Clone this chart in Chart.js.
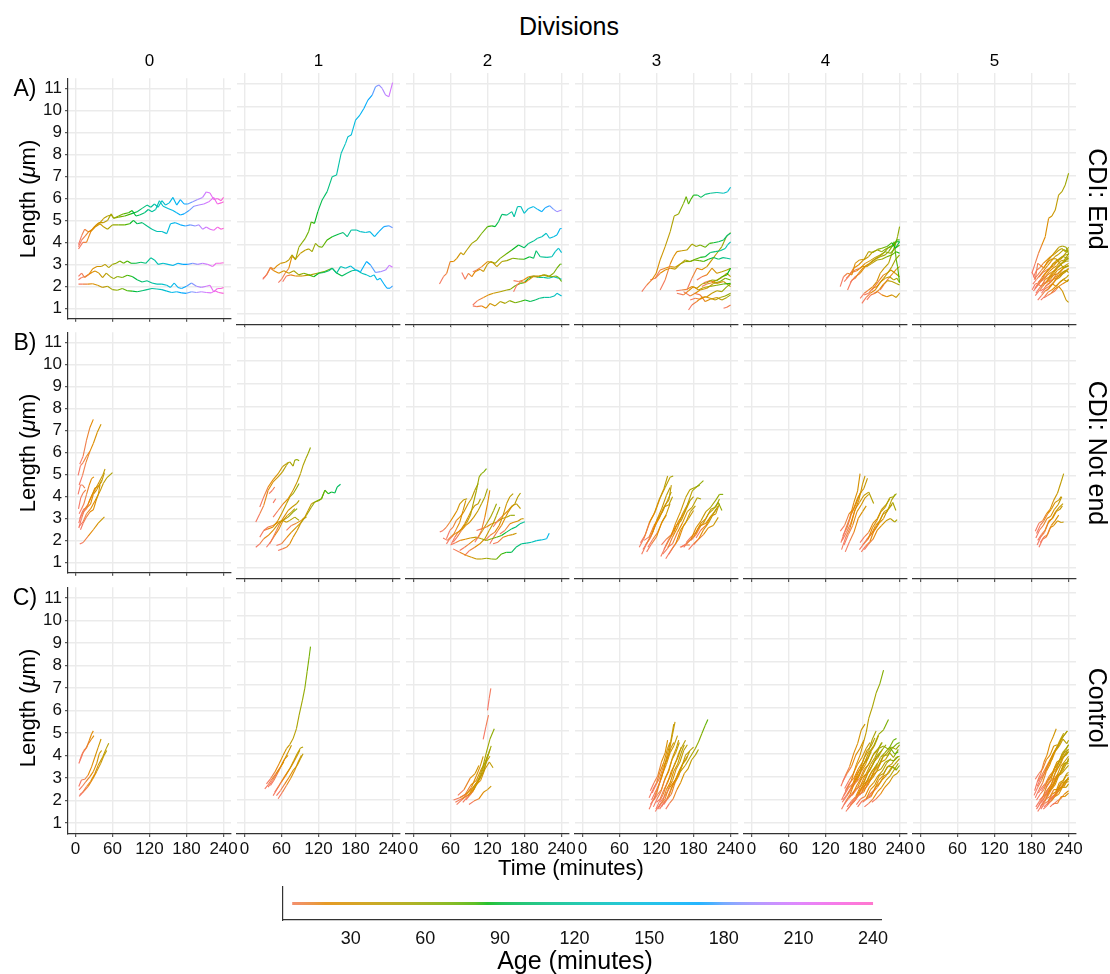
<!DOCTYPE html>
<html>
<head>
<meta charset="utf-8">
<script src="https://cdn.jsdelivr.net/npm/chart.js@4.4.1/dist/chart.umd.min.js"></script>
<style>
  html, body { margin: 0; padding: 0; background: #fff; }
  #fig { position: relative; width: 1110px; height: 974px; overflow: hidden;
         font-family: 'Liberation Sans', Arial, Helvetica, sans-serif; color: #000; }
  #fig canvas { position: absolute; }
  .lbl { position: absolute; white-space: nowrap; line-height: 1; transform: translate(-50%, -50%); }
  .rotl { transform: translate(-50%, -50%) rotate(-90deg); }
  .rotr { transform: translate(-50%, -50%) rotate(90deg); }
</style>
</head>
<body>
<div id="fig"></div>
<script>
// ---- facets, ticks ----
const divisions = ['0', '1', '2', '3', '4', '5'];
const groups = ['CDI: End', 'CDI: Not end', 'Control'];
const rowTags = ['A)', 'B)', 'C)'];
const timeTicks = [0, 60, 120, 180, 240];
const timeTickLabels = ['0', '60', '120', '180', '240'];
const lengthTicks = [1, 2, 3, 4, 5, 6, 7, 8, 9, 10, 11];
const lengthTickLabels = ['1', '2', '3', '4', '5', '6', '7', '8', '9', '10', '11'];
const ageTicks = [30, 60, 90, 120, 150, 180, 210, 240];
const ageTickLabels = ['30', '60', '90', '120', '150', '180', '210', '240'];
const ageSpan = [6.5, 240];

// ---- cell length trajectories: flat [time, length, time, length, ...] ----
// CDI: End
const endDiv0 = [
  [5,3.9, 10,4.3, 15,4.6, 20,4.5, 25,4.5, 30,4.7, 38,4.9, 45,4.9, 52,5.0, 58,5.3, 62,5.1, 70,5.15, 80,5.2, 90,5.3, 100,5.4, 108,5.55, 116,5.7, 122,5.6, 128,5.75, 134,5.6, 140,5.9, 146,5.7, 152,5.8, 158,6.05, 164,5.7, 170,5.95, 176,5.75, 182,5.75, 190,5.85, 198,5.95, 206,6.05, 212,6.3, 218,6.25, 224,5.95, 230,6.0, 236,5.9, 240,6.05],
  [5,3.8, 10,4.1, 16,4.3, 22,4.5, 28,4.6, 34,4.8, 40,4.9, 46,5.1, 52,5.2, 58,5.25, 62,5.1, 70,5.2, 78,5.3, 86,5.35, 92,5.45, 98,5.2, 104,5.25, 112,5.35, 118,5.5, 124,5.4, 130,5.5, 136,5.9, 142,5.65, 150,5.55, 158,5.45, 164,5.35, 170,5.25, 176,5.3, 184,5.45, 192,5.65, 200,5.7, 208,5.75, 216,5.85, 224,6.05, 230,5.75, 236,5.8, 240,5.85],
  [5,3.7, 12,4.0, 18,4.0, 25,4.5, 32,4.7, 40,4.85, 46,4.7, 52,4.6, 60,4.8, 70,4.8, 80,4.8, 88,4.85, 94,5.0, 100,4.85, 108,4.9, 116,4.75, 124,4.6, 132,4.5, 140,4.5, 148,4.4, 154,4.85, 162,4.9, 170,4.8, 178,4.75, 186,4.8, 194,4.75, 200,4.8, 206,4.6, 212,4.7, 218,4.6, 224,4.55, 230,4.7, 236,4.6, 240,4.65],
  [5,2.45, 10,2.6, 15,2.4, 22,2.55, 28,2.8, 35,2.9, 42,2.9, 48,3.0, 54,2.85, 60,3.0, 66,3.05, 72,3.15, 78,3.05, 84,3.15, 90,3.05, 98,3.05, 106,3.1, 114,3.05, 122,3.3, 128,3.2, 134,3.0, 142,3.05, 150,3.0, 158,2.95, 166,3.05, 174,3.0, 182,3.0, 190,3.05, 198,3.0, 206,3.05, 214,3.0, 222,2.9, 228,3.05, 234,3.05, 240,3.07],
  [5,2.3, 10,2.4, 16,2.45, 22,2.55, 28,2.65, 32,2.7, 38,2.6, 44,2.4, 50,2.6, 56,2.45, 62,2.35, 68,2.45, 76,2.4, 84,2.5, 92,2.45, 100,2.3, 108,2.2, 116,2.25, 124,2.15, 132,2.1, 140,2.1, 148,2.05, 154,1.95, 160,2.15, 166,1.95, 172,1.9, 180,2.0, 188,2.15, 196,2.0, 204,1.95, 212,2.0, 218,2.05, 224,1.75, 230,1.9, 236,1.9, 240,1.95],
  [5,2.1, 12,2.1, 20,2.1, 28,2.12, 36,2.05, 44,1.95, 52,2.0, 60,1.85, 68,1.82, 76,1.9, 84,1.8, 92,1.78, 100,1.75, 108,1.8, 116,1.85, 124,1.9, 132,1.88, 140,1.85, 148,1.78, 156,1.72, 164,1.75, 172,1.7, 180,1.68, 188,1.75, 196,1.72, 204,1.75, 212,1.72, 220,1.7, 226,1.8, 232,1.72, 240,1.68]
];
const endDiv1 = [
  [29.7,2.5, 33,2.6, 36.8,2.75, 42.2,3.03, 47.6,2.95, 53,3.1, 58.4,3.2, 66.5,3.25, 71.9,3.35, 77.3,3.57, 82.7,3.35, 88.1,3.9, 93.5,4.1, 98.9,4.3, 104.3,4.6, 108.1,5.0, 113.5,4.94, 118.9,5.45, 125.9,5.96, 134,6.32, 142.2,6.97, 149.2,7.04, 156.7,7.99, 163.8,8.42, 167.6,8.71, 173,8.78, 180,9.43, 187,9.65, 193.5,9.94, 200,10.3, 207,10.52, 212.4,10.88, 217.8,10.96, 223.2,10.81, 228.6,10.52, 234,10.45, 240,11.06],
  [55,2.36, 60,2.5, 66,2.77, 72,2.99, 77,3.5, 83,3.4, 90.8,3.64, 98.9,3.78, 104.3,3.83, 109.7,3.71, 115.1,4.07, 120.5,3.93, 125.9,3.9, 134,4.22, 142.2,4.36, 153,4.48, 160,4.54, 166.5,4.36, 173,4.65, 181.6,4.65, 188,4.58, 196.2,4.54, 203.2,4.58, 210.8,4.36, 217.8,4.58, 225.9,4.8, 234,4.84, 240,4.75],
  [30,2.55, 36,2.7, 42,3.0, 47.6,2.88, 55.7,2.77, 63.8,2.88, 71.9,2.77, 80,2.88, 88.1,2.7, 96.2,2.77, 104.3,2.7, 112.4,2.62, 120.5,2.77, 128.6,2.8, 136.7,2.88, 142.2,2.99, 149.2,2.77, 155.7,3.06, 163.8,2.99, 171.9,3.09, 180,2.91, 188.1,2.84, 197.8,3.28, 204.3,3.13, 212.4,2.8, 220.5,2.84, 228.6,2.91, 234.6,3.12, 240,3.03],
  [62,2.4, 68,2.65, 75,2.7, 82.7,2.65, 93.5,2.65, 107,2.7, 118,2.77, 129,2.84, 142,2.99, 150,2.77, 158,2.65, 166,2.77, 174,2.88, 182,2.91, 190,2.77, 198,2.7, 204,2.62, 210,2.7, 215,2.48, 220,2.55, 226,2.3, 231,2.12, 236,2.12, 240,2.22]
];
const endDiv2 = [
  [42.2,2.3, 48.6,2.62, 54,2.77, 59.5,3.28, 64.9,3.28, 70.3,3.42, 76.8,3.67, 81,3.57, 86.5,3.78, 94.6,4.07, 102.7,4.22, 110.8,4.51, 120,4.8, 127,4.83, 132.4,4.8, 137.8,5.01, 143.2,5.33, 151.3,5.3, 159.4,5.45, 163.2,5.23, 168.6,5.67, 174,5.67, 179.4,5.38, 186.5,5.59, 194.6,5.67, 201,5.55, 208,5.45, 213.5,5.62, 220.5,5.71, 227,5.55, 232.4,5.45, 240,5.52],
  [78.4,2.8, 83.8,2.51, 89.2,2.77, 94.6,2.62, 100,2.84, 108.1,2.94, 113.5,2.85, 120,3.17, 125.4,3.28, 132.4,3.2, 140.5,3.42, 150.3,3.61, 159.4,3.78, 170.3,4.0, 179.4,3.88, 186.5,4.07, 194.6,4.17, 201,4.29, 208,4.36, 215.1,4.51, 220.5,4.29, 227,4.36, 232.4,4.43, 237.8,4.72, 240,4.72],
  [96.2,2.84, 102.7,2.91, 110.8,3.06, 120,3.28, 128.6,3.23, 135.1,3.06, 143.2,3.28, 151.3,3.32, 161,3.42, 170.3,3.39, 179.4,3.38, 188.1,3.49, 194.6,3.42, 198.9,3.75, 205.4,3.49, 216.2,3.46, 224.3,3.49, 229.7,3.71, 235.1,3.86, 240,3.67],
  [162.2,1.97, 167.6,2.26, 174,2.41, 181,2.36, 186.5,2.48, 193.5,2.62, 202.7,2.62, 210.8,2.7, 218.9,2.62, 227,2.77, 232.4,2.99, 237.8,3.17, 240,3.16],
  [162.2,2.45, 170.3,2.41, 178.4,2.48, 186.5,2.62, 193.5,2.65, 202.7,2.65, 213.5,2.7, 222.7,2.62, 231.3,2.65, 235.1,2.59, 240,2.41],
  [96.2,1.39, 103.8,1.58, 113.5,1.72, 121.6,1.83, 129.7,1.9, 140.5,1.97, 151.3,2.04, 156.8,2.07, 164.9,2.23, 173,2.33, 179.4,2.36, 186.5,2.55, 194.6,2.65, 202.7,2.59, 210.8,2.59, 218.9,2.55, 227,2.62, 235.1,2.55, 240,2.51],
  [96.2,1.35, 102.7,1.32, 110.8,1.35, 117.8,1.25, 124.3,1.46, 132.4,1.35, 140.5,1.54, 148.6,1.46, 155.7,1.58, 164.9,1.49, 173,1.54, 181,1.61, 189.2,1.54, 197.3,1.61, 204.3,1.68, 211.9,1.72, 220.5,1.72, 228.1,1.78, 232.4,1.9, 240,1.78]
];
const endDiv3 = [
  [96.2,1.97, 104.3,2.26, 112.4,2.48, 119.5,2.77, 125.9,3.35, 134,3.93, 142.2,4.58, 148.6,5.26, 155.7,5.35, 163.8,5.81, 168.1,6.1, 171.9,5.78, 175.7,5.99, 180,6.17, 186.5,6.17, 191.9,6.07, 198.9,6.2, 207,6.25, 217.8,6.28, 228.6,6.25, 235.1,6.32, 240,6.51],
  [125.9,2.04, 134,2.48, 142.2,3.17, 147.6,3.49, 153,3.71, 161,3.75, 169.2,3.78, 177.3,4.04, 184.3,3.93, 190.8,4.0, 198.9,3.9, 205.9,4.07, 212.4,4.1, 220.5,4.14, 228.6,4.22, 235.1,4.43, 240,4.51],
  [109.7,2.48, 117.8,2.55, 125.9,2.77, 134,2.91, 142.2,2.99, 150.3,2.95, 158.4,3.17, 166.5,3.28, 174.6,3.28, 182.7,3.38, 190.8,3.46, 198.9,3.49, 207,3.67, 215.1,3.71, 223.2,3.75, 231.3,3.85, 235,4.0, 240,4.14],
  [117.8,2.55, 125.9,2.91, 134,2.99, 142.2,3.06, 150.3,3.03, 158.4,3.17, 166.5,3.35, 174.6,3.28, 181,3.35, 189.7,3.32, 196.2,3.28, 204.3,3.38, 212.4,3.46, 220.5,3.38, 227.6,3.45, 234,3.42, 240,3.39],
  [169.2,2.04, 177.3,2.55, 185.4,2.99, 193.5,2.92, 201.6,3.06, 209.7,3.35, 217.8,3.64, 225.9,3.93, 233,4.36, 240,4.54],
  [151.9,2.01, 161,2.04, 169.2,2.07, 177.3,2.19, 185.4,2.12, 193.5,2.3, 201.6,2.36, 209.7,2.48, 217.8,2.45, 225.9,2.62, 234,2.7, 240,2.99],
  [153,1.9, 163.8,1.83, 171.9,2.01, 180,2.19, 188.1,2.04, 196.2,2.15, 207,2.2, 217.8,2.25, 228.6,2.3, 240,2.33],
  [163.8,1.97, 174.6,1.78, 182.7,1.9, 190.8,2.04, 201.6,2.12, 212.4,2.33, 223.2,2.41, 231.3,2.55, 240,2.48],
  [171.9,1.17, 177.3,1.39, 185.4,1.54, 193.5,1.72, 201.6,1.75, 209.7,1.9, 217.8,2.01, 225.9,1.97, 234,2.19, 240,2.3],
  [174.6,1.61, 182.7,1.68, 190.8,1.64, 198.9,1.75, 207,1.68, 215.1,1.61, 223.2,1.72, 231.3,1.78, 240,1.9],
  [181,1.9, 190.8,1.83, 198.9,1.54, 207,1.64, 217.8,1.72, 225.9,1.61, 234,1.72, 240,1.83],
  [185.4,2.48, 193.5,2.62, 201.6,2.7, 209.7,2.99, 217.8,2.77, 225.9,2.84, 234,2.91, 240,2.99],
  [193.5,2.19, 201.6,2.3, 209.7,2.36, 217.8,2.48, 225.9,2.59, 234,2.77, 240,2.62],
  [228.6,1.25, 234,1.29, 240,1.39],
  [196.2,2.36, 207,2.45, 217.8,2.33, 228.6,2.41, 240,2.19]
];
const endDiv4 = [
  [143.8,2.19, 149.2,2.62, 155.7,2.77, 162.7,2.7, 168.1,3.2, 175.1,3.35, 182.7,3.38, 189.7,3.71, 196.7,3.67, 204.3,3.81, 211.3,3.86, 219.4,3.93, 227.6,4.1, 233,3.86, 240,4.14],
  [155.7,2.04, 162.7,2.48, 168.1,2.55, 173.5,2.77, 181.6,3.03, 189.7,3.17, 197.8,3.35, 205.9,3.49, 214,3.64, 222.2,3.9, 230.3,4.0, 235.7,4.22, 240,4.22],
  [150.3,2.41, 157.3,2.62, 165.4,2.99, 173.5,3.13, 181.6,3.35, 189.7,3.49, 196.7,3.71, 204.3,3.78, 211.3,3.71, 219.4,3.86, 227.6,3.93, 234.6,4.14, 240,4.14],
  [160,2.77, 168.1,2.91, 176.2,2.99, 184.3,3.2, 192.4,3.32, 200.5,3.46, 208.6,3.57, 216.7,3.71, 224.9,3.64, 233,3.86, 240,4.0],
  [153.5,2.55, 162.7,2.8, 170.8,2.88, 178.9,3.06, 187,3.06, 195.1,3.2, 203.2,3.35, 211.3,3.38, 219.4,3.49, 227.6,3.57, 234.6,3.71, 240,3.64],
  [160,2.36, 168.1,2.62, 176.2,2.77, 184.3,3.06, 192.4,3.2, 200.5,3.38, 208.6,3.49, 216.7,3.57, 222.2,3.71, 227.6,3.93, 231.3,4.14, 234.6,3.35, 236.7,3.06, 240,2.36],
  [176.2,1.68, 182.7,1.9, 189.7,2.04, 196.7,2.19, 203.2,2.41, 208.6,2.77, 215.1,2.99, 222.2,3.2, 227.6,3.64, 233,4.0, 236.7,4.36, 240,4.8],
  [178.9,1.46, 185.9,1.72, 192.4,1.9, 200.5,2.04, 207.6,2.33, 214,2.55, 220.5,2.77, 227.6,3.06, 233,3.35, 240,3.57],
  [182.7,1.83, 189.7,1.9, 196.7,2.12, 203.2,2.19, 209.7,2.41, 216.7,2.55, 223.8,2.62, 230.3,2.48, 235.7,2.55, 240,2.36],
  [187,1.61, 193.5,1.83, 200.5,1.9, 207.6,2.07, 214,2.3, 220.5,2.45, 227.6,2.41, 234.6,2.33, 240,2.26],
  [197.8,1.9, 204.3,1.97, 211.3,1.83, 219.4,1.75, 227.6,1.83, 234.6,1.72, 240,1.9],
  [195.1,2.04, 200.5,2.22, 207.6,2.48, 214,2.7, 219.4,2.77, 225.9,2.91, 233,2.77, 240,2.62],
  [208.6,2.04, 215.1,2.3, 222.2,2.55, 229.2,2.77, 234.6,2.94, 240,3.06]
];
const endDiv5 = [
  [180.5,2.77, 185.9,3.2, 191.3,3.64, 196.7,4.0, 202.2,4.36, 207.6,5.16, 213,5.26, 218.4,5.52, 223.8,6.17, 229.2,6.32, 234.6,6.61, 240,7.12],
  [181,2.8, 186,2.5, 190,3.2, 195,3.1, 200,3.0, 206,3.3, 212,3.5, 218,3.7, 224,3.9, 230,3.96, 236,3.9, 240,3.6],
  [182,2.3, 188,2.5, 194,2.7, 200,2.9, 206,3.1, 212,3.3, 218,3.5, 224,3.6, 232,3.8, 240,3.7],
  [183,2.0, 189,2.2, 195,2.4, 201,2.7, 207,2.9, 213,3.1, 219,3.3, 225,3.4, 231,3.5, 240,3.4],
  [184,2.5, 190,2.7, 196,2.9, 202,3.1, 208,3.3, 214,3.4, 220,3.4, 226,3.2, 232,3.0, 240,3.1],
  [186,1.8, 192,2.0, 198,2.2, 204,2.4, 210,2.6, 216,2.8, 222,3.0, 228,3.2, 234,3.3, 240,3.5],
  [188,2.2, 194,2.4, 200,2.5, 206,2.7, 212,2.8, 218,2.9, 224,3.1, 230,3.2, 236,3.3, 240,3.3],
  [190,1.6, 196,1.8, 202,2.0, 208,2.1, 214,2.3, 220,2.5, 226,2.6, 232,2.8, 238,2.9],
  [192,2.6, 198,2.8, 204,2.9, 210,3.0, 216,3.1, 222,3.3, 228,3.4, 234,3.6, 240,3.8],
  [194,2.0, 200,2.1, 206,2.3, 212,2.4, 218,2.6, 224,2.7, 230,2.8, 236,2.9, 240,2.8],
  [196,1.9, 202,2.1, 208,2.2, 214,2.3, 220,2.2, 226,2.4, 232,2.5, 238,2.4, 240,2.5],
  [198,2.3, 204,2.4, 210,2.6, 216,2.7, 222,2.9, 228,3.0, 234,3.1, 240,3.2],
  [200,1.7, 206,1.8, 212,1.9, 218,2.1, 224,2.2, 230,2.0, 236,1.6, 240,1.5],
  [185,2.1, 190,2.3, 196,2.2, 202,2.5, 208,2.6, 214,2.8, 220,3.0, 226,3.1, 232,3.3, 240,3.4],
  [204,2.0, 210,2.2, 216,2.4, 222,2.6, 228,2.7, 234,2.8, 240,3.0],
  [208,2.4, 214,2.5, 220,2.7, 226,2.8, 232,3.0, 240,3.1],
  [212,1.9, 218,2.0, 224,2.2, 230,2.3, 236,2.4, 240,2.5],
  [181,2.05, 186,2.3, 191,2.35, 197,2.6, 203,2.8, 209,2.95, 215,3.2, 221,3.25, 227,3.45, 233,3.55, 240,3.6],
  [183,2.6, 188,2.9, 193,3.0, 199,3.2, 205,3.35, 211,3.5, 217,3.6, 223,3.75, 229,3.85, 235,3.7, 240,3.9],
  [187,1.9, 192,2.1, 198,2.3, 204,2.35, 210,2.5, 216,2.7, 222,2.75, 228,2.9, 234,3.05, 240,3.1],
  [191,2.4, 197,2.5, 203,2.65, 209,2.85, 215,3.0, 221,3.1, 227,3.3, 233,3.35, 240,3.6],
  [195,1.6, 201,1.75, 207,1.95, 213,2.05, 219,2.2, 225,2.35, 231,2.5, 237,2.6, 240,2.7],
  [202,2.2, 208,2.3, 214,2.5, 220,2.55, 226,2.7, 232,2.85, 240,2.95]
];

// CDI: Not end
const notEndDiv0 = [
  [7,5.47, 12.5,5.83, 18,6.56, 23.5,7.14, 29,7.51],
  [6,4.52, 11.5,4.96, 17,5.54, 23.5,6.05, 29,6.41, 35.5,6.92, 41.5,7.29],
  [4.4,4.96, 8.2,5.4, 12.5,5.54, 18,5.83, 23.5,6.05],
  [7,1.83, 12.5,1.9, 20.7,2.19, 29,2.48, 37,2.78, 47,3.07],
  [6,2.63, 12.5,2.85, 18,3.21, 24.5,3.43, 31.6,3.79, 39.8,4.23, 45.3,4.6, 50.7,4.84, 60,5.08],
  [5.5,2.56, 9.8,2.99, 15.3,3.43, 20.7,3.65, 26.2,4.01, 31.6,4.38, 37,4.45, 42.5,4.67, 47,5.08],
  [6,3.21, 9.8,3.43, 13.6,3.65, 18,4.09, 22.4,4.52, 26.2,4.81, 30,4.89],
  [4.4,4.09, 8.2,4.52, 11.5,4.52, 15.3,4.38],
  [5.5,2.78, 9.8,3.21, 13.6,3.43, 19,3.5, 24.5,3.65, 29,4.09, 34.4,4.3, 38.7,4.52, 42.5,4.74],
  [7,2.99, 12.5,3.29, 18,3.43, 22.4,3.79, 27.3,4.09, 33.3,4.38, 38.7,4.67, 44.2,4.96, 48,5.25],
  [5,3.43, 8.7,3.94, 12.5,4.16, 16.9,4.3],
  [8.2,2.48, 12.5,2.78, 18,3.07, 23.5,3.29, 29,3.39, 33.3,3.79, 37.1,4.09, 39.8,4.52]
];
const notEndDiv1 = [
  [18.4,3.0, 24.9,3.36, 31.3,3.72, 38.4,4.38, 46.5,4.74, 54.6,4.96, 61.6,5.18, 68.1,5.47, 70.8,5.57],
  [24.9,3.65, 31.3,4.09, 38.4,4.52, 46.5,4.84, 54.6,5.1, 61.6,5.4, 68.1,5.54, 73.5,5.61, 78.9,5.43, 81.6,5.69, 85.4,5.72, 88.6,5.66],
  [46.5,3.21, 54.6,3.5, 62.7,3.79, 70.8,4.01, 78.9,4.38, 85.4,4.74, 90.8,5.1, 95.1,5.47, 99.5,5.76, 103.2,5.98, 107,6.24],
  [51.9,1.98, 60,2.05, 68.1,2.31, 76.2,2.56, 84.3,2.78, 92.4,2.99, 100.5,3.29, 108.6,3.65, 114,3.87, 119.5,3.94, 124.9,4.01, 130.3,4.38, 135.7,4.23, 141.1,4.3, 146.5,4.26, 150.3,4.52, 155.7,4.64],
  [68.1,2.63, 76.2,2.85, 84.3,2.95, 92.4,3.07, 97.8,3.21, 103.2,3.5, 108.6,3.79, 114,3.87, 119.5,3.91, 124.9,4.01, 129.2,4.3],
  [54.6,1.76, 61.6,1.83, 68.1,1.9, 73.5,2.05, 78.9,2.34, 85.4,2.63, 90.8,2.92, 95.1,3.14, 100.5,3.21],
  [18.4,1.9, 24.9,2.05, 31.3,2.27, 38.4,2.41, 46.5,2.63, 54.6,2.92, 62.7,3.07, 70.8,3.21, 78.9,3.43, 85.4,3.58],
  [24.9,2.34, 31.3,2.63, 38.4,2.7, 46.5,2.78, 54.6,3.07, 61.6,3.43, 68.1,3.79, 73.5,4.09, 78.9,4.23, 85.4,4.52, 88.6,4.67],
  [35.7,1.9, 42.2,2.12, 49.2,2.41, 56.2,2.7, 62.7,3.07, 69.7,3.29, 76.2,3.43, 81.6,3.58],
  [31.3,2.63, 38.4,2.78, 46.5,2.85, 54.6,2.99, 61.6,3.07, 68.1,2.99, 73.5,3.07, 81.6,3.21, 88.6,3.07],
  [40,4.23, 45.4,4.38, 49,4.52],
  [41,2.05, 46.5,2.34, 51.9,2.63, 57.3,2.92, 63.8,3.21, 70.8,3.5, 77.3,3.65, 84.3,3.79, 88.6,3.94],
  [46.5,3.83, 50.8,4.01]
];
const notEndDiv2 = [
  [42.7,2.56, 48.1,2.63, 53.5,2.78, 59,2.99, 64.3,3.21, 70.8,3.5, 75.1,3.79, 81.6,3.97, 87,4.01],
  [48,2.3, 55,2.2, 62,2.4, 68,2.5, 75.1,2.6, 81.6,2.8, 87,3.0, 92.4,3.3, 96.8,3.79, 102.2,4.38, 106.5,4.96, 110.3,5.1, 114,5.18, 118.4,5.32],
  [53.5,2.27, 59,2.63, 64.3,2.78, 69.7,3.07, 75.1,3.21, 81.6,3.43, 88.6,3.79, 94,4.01, 99.5,4.38, 104.9,4.67],
  [61.6,2.05, 67,2.34, 72.4,2.56, 77.8,2.7, 83.2,2.92, 88.6,3.21, 94,3.5, 99.5,3.72, 104.9,3.79, 108.6,4.01],
  [99.5,2.12, 104.9,2.34, 110.3,2.63, 115.7,3.21, 120,3.79, 123.8,4.38],
  [64.3,1.83, 75,1.68, 86,1.54, 94,1.47, 102.2,1.39, 110.3,1.39, 118.4,1.42, 126.5,1.39, 134.6,1.38, 142.7,1.61, 150.8,1.68, 158.9,1.68, 166,1.9, 175.1,2.05, 183.2,2.08, 191.3,2.12, 199.4,2.19, 207.5,2.22, 215.7,2.27, 220,2.51],
  [60,2.0, 68,2.1, 76,2.2, 84,2.25, 92,2.3, 102.2,2.34, 110.3,2.27, 118.4,2.19, 126.5,2.27, 134.6,2.34, 142.7,2.41, 150.8,2.56, 158.9,2.7, 166,2.78, 172.4,2.92, 177.8,2.98, 180.5,3.01],
  [123.8,2.05, 130,2.34, 137,2.63, 142.7,2.85, 148,3.14, 153.5,3.43, 159,3.65, 164.3,3.79, 169,4.09, 173.5,4.26],
  [115.7,2.19, 123.8,2.41, 132,2.56, 138.9,2.85, 144.3,3.21, 150.8,3.79, 156,4.09, 161.6,4.23],
  [129,2.78, 137,3.07, 145.4,3.29, 153.5,3.5, 160.5,3.72, 167,3.79, 173.5,3.58],
  [140,2.48, 148,2.63, 156.2,2.92, 162.7,2.99, 169.7,3.04, 175,3.14, 178.6,3.14],
  [102.2,2.63, 110.3,2.7, 118.4,2.78, 126.5,2.92, 134.6,2.99, 142.7,3.14, 150.8,3.21, 157.3,3.29, 164.3,3.29],
  [129,2.05, 137,2.12, 145.4,2.34, 153.5,2.41, 160.5,2.45, 167,2.51],
  [53.5,2.05, 59,2.27, 64.3,2.41, 69.7,2.7, 75.1,2.99, 80.5,3.5, 84.9,3.94],
  [64.3,2.12, 70.8,2.34, 77.8,2.63, 84.9,2.85, 91.3,2.99, 97.8,3.21, 104.9,3.5, 110.3,3.79, 115.7,4.09, 120,4.45],
  [75,1.76, 83,1.9, 90.3,2.05, 96.8,2.19, 104.9,2.34, 112,2.63, 118.4,2.92, 124.9,3.21, 130,3.5, 134.6,3.79],
  [83,1.54, 91,1.76, 99.5,1.9, 107.5,2.05, 115.7,2.27, 122.7,2.63, 129,2.92, 134.6,3.29, 140,3.65]
];
const notEndDiv3 = [
  [92,1.9, 100,2.3, 108,2.95, 116,3.35, 124,3.95, 132,4.45, 138,5.0],
  [94,2.1, 102,2.45, 110,3.05, 118,3.45, 126,4.05, 134,4.5, 142,4.95, 147,5.0],
  [96,1.6, 104,2.05, 112,2.45, 120,3.05, 128,3.55, 136,4.15, 142,4.5],
  [98,1.8, 106,2.15, 114,2.55, 122,3.15, 130,3.45, 138,3.95, 144,4.3],
  [100,2.2, 108,2.35, 116,2.85, 124,3.15, 132,3.65, 140,3.75, 146,4.1],
  [104,1.7, 112,2.05, 120,2.35, 128,2.95, 136,3.35, 142,3.8],
  [102,2.0, 110,2.3, 118,2.85, 126,3.25, 134,3.75, 140,3.95, 144,4.6],
  [106,1.9, 114,2.25, 122,2.55, 130,3.05, 136,3.3],
  [127,1.5, 135,1.95, 143,2.35, 151,2.95, 159,3.45, 167,4.05, 174,4.4, 182,4.5, 190,4.6],
  [130,1.6, 138,1.85, 146,2.35, 154,2.75, 162,3.35, 170,3.75, 178,4.35, 186,4.55, 196,4.8],
  [132,1.8, 140,2.25, 148,2.55, 156,3.05, 164,3.35, 172,3.85, 180,4.1],
  [135,1.4, 143,1.75, 151,2.05, 159,2.65, 167,2.95, 175,3.45, 183,3.7],
  [138,1.9, 146,2.05, 154,2.55, 162,2.95, 170,3.45, 178,3.65, 186,4.05, 192,4.0],
  [128,2.0, 136,2.25, 144,2.45, 152,2.85, 160,3.05, 168,3.55, 174,3.9],
  [140,1.6, 148,1.95, 156,2.25, 164,2.85, 172,3.15, 180,3.5],
  [160,1.9, 168,2.05, 176,2.25, 184,2.75, 192,3.05, 200,3.45, 208,3.65, 216,3.95, 222,4.2, 228,4.2],
  [164,1.9, 172,2.15, 180,2.35, 188,2.75, 196,2.95, 204,3.35, 212,3.55, 220,3.85, 226,3.5],
  [168,2.1, 176,2.35, 184,2.55, 192,2.95, 200,3.15, 208,3.55, 216,3.65, 222,4.0],
  [172,1.8, 180,2.05, 188,2.25, 196,2.65, 204,2.95, 212,3.35, 218,3.6],
  [176,2.2, 184,2.45, 192,2.85, 200,2.95, 208,3.25, 214,3.45, 220,3.7],
  [180,2.0, 188,2.25, 196,2.45, 204,2.75, 212,2.85, 220,3.2],
  [184,2.3, 192,2.65, 200,2.85, 208,3.25, 216,3.35, 222,3.8],
  [158,1.9, 166,2.0, 174,2.0]
];
const notEndDiv4 = [
  [145,2.1, 152,2.65, 159,3.15, 166,3.85, 172,4.35, 176,5.1],
  [146,1.8, 153,2.35, 160,2.75, 167,3.45, 174,3.95, 180,4.65, 184,5.0],
  [148,2.4, 155,2.75, 162,3.35, 169,3.75, 176,4.25, 182,4.45, 188,4.9],
  [150,2.0, 157,2.45, 164,2.85, 171,3.45, 178,3.75, 184,4.05, 190,4.2],
  [144,2.6, 151,2.85, 158,3.35, 165,3.55, 172,4.05, 178,4.3],
  [152,1.7, 159,2.15, 166,2.55, 173,3.15, 180,3.45, 186,3.7],
  [147,2.2, 154,2.55, 161,2.95, 168,3.55, 175,3.85, 182,4.15, 190,4.3, 198,3.8],
  [175,1.8, 182,2.05, 189,2.25, 196,2.75, 203,3.05, 210,3.45, 217,3.65, 224,4.05, 230,4.1, 235,4.23],
  [178,1.7, 185,1.95, 192,2.15, 199,2.65, 206,2.95, 213,3.35, 220,3.45, 227,3.95, 233,4.2],
  [180,2.0, 187,2.25, 194,2.45, 201,2.85, 208,3.05, 215,3.45, 222,3.55, 229,3.85, 234,3.5],
  [183,1.8, 190,2.05, 197,2.25, 204,2.65, 211,2.85, 218,3.05, 225,3.15, 232,3.0, 236,3.1],
  [186,2.2, 193,2.45, 200,2.65, 207,2.95, 214,3.15, 221,3.55, 228,3.75],
  [176,2.1, 183,2.35, 190,2.55, 197,2.95, 204,3.15, 211,3.55, 218,3.75, 224,4.0]
];
const notEndDiv5 = [
  [186,2.6, 192,2.95, 198,3.05, 204,3.35, 210,3.55, 216,3.95, 222,4.25, 228,4.75, 232,5.1],
  [187,2.3, 193,2.65, 199,2.85, 205,3.15, 211,3.25, 217,3.55, 223,3.75, 229,4.1],
  [189,2.0, 195,2.35, 201,2.55, 207,2.95, 213,3.15, 219,3.45, 225,3.65, 231,3.8],
  [190,2.2, 196,2.45, 202,2.65, 208,3.05, 214,3.15, 220,3.45, 226,3.55, 230,3.7],
  [192,1.9, 198,2.25, 204,2.35, 210,2.75, 216,2.85, 222,3.05, 228,2.98, 232,3.0],
  [188,2.5, 194,2.85, 200,3.05, 206,3.35, 212,3.55, 218,3.85, 224,3.95, 228,4.1],
  [194,2.1, 200,2.35, 206,2.45, 212,2.85, 218,3.05, 224,3.3]
];

// Control
const controlDiv0 = [
  [5.5,3.65, 9.8,3.94, 13.6,4.23, 18,4.35, 22.4,4.67, 26.2,4.96, 29,5.1],
  [7,3.79, 11,4.09, 15.8,4.26, 20.7,4.52, 26.2,4.74, 30,4.89],
  [5.5,2.63, 9.8,2.92, 15.3,2.95, 20.7,3.14, 26.2,3.5, 31.6,3.94, 37,4.38, 41.5,4.74],
  [6,2.48, 11,2.63, 17,2.85, 23.5,3.07, 29,3.29, 34.4,3.65, 38.7,4.09, 42.5,4.23],
  [6,2.19, 11,2.34, 18,2.63, 24.5,2.85, 31.6,3.21, 37,3.58, 44.2,3.94, 49.6,4.3, 54,4.55],
  [7,2.27, 13.6,2.41, 20.7,2.63, 27.8,2.95, 34.4,3.29, 40.9,3.65, 46.4,4.01, 50.7,4.23]
];
const controlDiv1 = [
  [35.7,2.7, 42.2,2.92, 49.2,3.21, 56.2,3.58, 62.7,3.94, 68.1,4.23, 73.5,4.41, 78.9,4.67, 84.3,5.1, 88.6,5.69, 94,6.34, 97.8,6.85, 101.6,7.58, 104.9,8.23, 107,8.67],
  [38.4,2.56, 45.4,2.85, 51.9,3.14, 58.4,3.43, 65.4,3.79, 72.4,4.16, 76.2,4.38],
  [46.5,2.19, 53,2.48, 60,2.78, 67,3.07, 73.5,3.36, 80,3.72, 85.4,4.01, 90.8,4.26, 95,4.3],
  [49.2,2.34, 56,2.63, 62.7,2.92, 69.7,3.21, 76.8,3.5, 84.3,3.87, 89.7,4.16],
  [54.6,2.05, 61.6,2.34, 68.1,2.63, 74.6,2.92, 81.6,3.29, 87,3.65, 92.4,3.94],
  [42.2,2.63, 47.6,2.85, 54.6,3.21, 60,3.5, 65.4,3.79, 70.8,3.94],
  [33,2.48, 38.4,2.66, 44.9,2.92, 50.8,3.14, 57.3,3.39, 63.8,3.65],
  [51.9,2.19, 58.4,2.41, 65.4,2.7, 72.4,2.99, 78.9,3.29, 85.4,3.5, 90.8,3.79, 95,4.01]
];
const controlDiv2 = [
  [113,4.64, 117.3,5.18, 121.6,5.69],
  [120,5.9, 122.7,6.41, 125.4,6.85],
  [65,2.0, 75,2.1, 85,2.25, 95,2.5, 105,2.85, 112,3.4, 118,4.05, 124,4.65, 131,5.1],
  [68,1.9, 78,2.05, 88,2.2, 98,2.45, 106,2.85, 114,3.25, 120,3.85, 126,4.35],
  [70,1.8, 80,2.05, 90,2.25, 100,2.65, 108,2.95, 115,3.55, 121,4.0],
  [75,2.1, 84,2.25, 93,2.65, 102,2.85, 110,3.35, 117,3.65, 124,4.2],
  [80,1.9, 88,2.15, 96,2.35, 104,2.85, 112,3.15, 118,3.65, 124,3.9],
  [85,2.0, 93,2.25, 101,2.65, 109,2.85, 116,3.35, 123,3.65, 129,3.4],
  [90,1.8, 98,1.95, 106,2.05, 114,2.35, 120,2.45, 126,2.6],
  [72,2.2, 82,2.45, 92,2.95, 100,3.15, 106,3.5],
  [78,2.0, 86,2.25, 94,2.55, 102,3.05, 108,3.45, 113,3.9]
];
const controlDiv3 = [
  [126,1.9, 134,2.19, 142,2.56, 150,2.85, 158,3.21, 166.5,3.5, 174.6,3.87, 182.7,4.23, 188,4.52, 193.5,4.89, 199,5.25, 203.2,5.5],
  [108,1.6, 114,1.95, 120,2.25, 126,2.85, 132,3.35, 138,4.05, 143,4.55, 148,5.3],
  [110,1.8, 116,2.05, 122,2.55, 128,2.95, 134,3.55, 140,4.05, 146,4.85, 150,5.4],
  [112,2.0, 118,2.35, 124,2.65, 130,3.15, 136,3.55, 142,4.05, 148,4.35, 154,4.8],
  [115,1.7, 121,2.05, 127,2.35, 133,2.85, 139,3.25, 145,3.75, 151,4.05, 157,4.5],
  [118,1.5, 124,1.75, 130,1.95, 136,2.45, 142,2.75, 148,3.25, 154,3.55, 160,4.05, 165,4.4],
  [120,1.9, 126,2.05, 132,2.45, 138,2.75, 144,3.25, 150,3.55, 156,4.05, 162,4.35, 167,4.6],
  [122,1.6, 128,1.85, 134,2.05, 140,2.55, 146,2.85, 152,3.35, 158,3.65, 164,4.15, 170,4.4],
  [113,2.3, 119,2.65, 125,2.95, 131,3.45, 137,3.75, 143,4.25, 148,4.5],
  [125,1.6, 131,1.85, 137,2.05, 143,2.45, 149,2.75, 155,3.15, 161,3.45, 167,3.95, 173,4.1],
  [128,1.7, 134,1.95, 140,2.15, 146,2.65, 152,2.95, 158,3.35, 164,3.65, 170,3.9],
  [132,1.8, 138,2.05, 144,2.25, 150,2.75, 156,3.05, 162,3.55, 168,3.75, 174,4.15, 180,4.3],
  [108,2.1, 114,2.45, 120,2.75, 126,3.25, 132,3.65, 138,4.25, 142,4.5],
  [116,2.0, 122,2.25, 128,2.45, 134,2.95, 140,3.25, 146,3.85, 152,4.25, 156,4.6],
  [135,1.6, 141,1.85, 147,2.05, 153,2.45, 159,2.75, 165,3.15, 171,3.35, 177,3.75, 183,3.95, 188,4.2],
  [110,2.4, 116,2.75, 122,3.05, 128,3.65, 134,4.05, 138,4.6],
  [119,1.6, 125,1.95, 131,2.25, 137,2.75, 143,3.05, 149,3.55, 155,3.85, 160,4.3]
];
const controlDiv4 = [
  [146,2.0, 154,2.45, 162,2.85, 170,3.55, 176,3.95, 182,4.55, 186,4.95, 190,5.55, 196,6.05, 202,6.65, 208,7.05, 214,7.65],
  [150,2.2, 158,2.55, 166,2.75, 174,3.25, 182,3.55, 190,4.05, 198,4.35, 206,4.85, 214,5.05, 222,5.5],
  [145,2.6, 152,3.05, 159,3.45, 166,4.05, 172,4.45, 178,5.05, 184,5.3],
  [146,1.6, 153,1.95, 160,2.25, 167,2.75, 174,3.05, 181,3.55, 188,3.75, 194,4.1],
  [148,2.0, 155,2.25, 162,2.55, 169,3.05, 176,3.35, 183,3.85, 190,4.15, 196,4.65, 202,5.0],
  [150,1.8, 157,2.05, 164,2.25, 171,2.65, 178,2.95, 185,3.35, 192,3.65, 199,4.05, 206,4.25, 212,4.5],
  [152,2.4, 159,2.75, 166,2.95, 173,3.35, 180,3.65, 187,4.15, 194,4.35, 200,4.7],
  [155,1.7, 162,1.95, 169,2.15, 176,2.55, 183,2.85, 190,3.25, 197,3.55, 204,3.95, 211,4.15, 218,4.4],
  [158,2.1, 165,2.35, 172,2.55, 179,2.95, 186,3.15, 193,3.55, 200,3.85, 207,4.25, 214,4.35, 222,4.2, 230,4.6, 235,4.67],
  [160,1.8, 167,2.05, 174,2.25, 181,2.65, 188,2.85, 195,3.25, 202,3.45, 209,3.85, 216,4.05, 224,4.3, 232,4.0, 238,4.1],
  [162,2.5, 169,2.75, 176,2.95, 183,3.35, 190,3.55, 197,3.95, 204,4.15, 211,4.5],
  [165,1.9, 172,2.15, 179,2.35, 186,2.75, 193,2.95, 200,3.35, 207,3.55, 214,3.95, 221,3.95, 228,4.25, 236,4.45, 240,4.5],
  [168,2.0, 175,2.25, 182,2.35, 189,2.75, 196,2.95, 203,3.25, 210,3.35, 217,3.65, 224,3.75, 231,3.7, 238,3.9],
  [172,1.7, 179,1.95, 186,2.05, 193,2.45, 200,2.65, 207,3.05, 214,3.15, 221,3.45, 228,3.45, 234,3.3, 240,3.5],
  [175,2.2, 182,2.45, 189,2.65, 196,3.05, 203,3.25, 210,3.65, 217,3.75, 224,4.05, 230,3.85, 238,4.2],
  [148,2.8, 155,3.15, 162,3.45, 169,3.95, 176,4.25, 182,4.6],
  [153,1.5, 160,1.75, 167,1.95, 174,2.35, 181,2.65, 188,3.15, 195,3.45, 202,3.85, 208,4.0],
  [180,1.9, 187,2.05, 194,2.15, 201,2.55, 208,2.75, 215,3.05, 222,3.15, 229,3.45, 236,3.3],
  [157,2.3, 164,2.65, 171,2.85, 178,3.25, 185,3.55, 192,4.05, 199,4.35, 206,4.8],
  [185,2.0, 192,2.25, 199,2.45, 206,2.85, 213,3.05, 220,3.45, 227,3.55, 234,3.85, 240,3.9],
  [147,1.9, 154,2.15, 161,2.45, 168,2.85, 175,3.15, 182,3.55, 188,3.85],
  [151,2.5, 158,2.85, 165,3.15, 172,3.55, 179,3.85, 186,4.25, 192,4.5],
  [156,1.6, 163,1.85, 170,2.05, 177,2.45, 184,2.65, 191,3.05, 198,3.35, 204,3.6],
  [163,2.2, 170,2.45, 177,2.65, 184,3.05, 191,3.25, 198,3.65, 205,3.85, 212,4.2],
  [170,1.8, 177,2.05, 184,2.15, 191,2.55, 198,2.75, 205,3.05, 212,3.25, 219,3.6, 226,3.8],
  [178,2.4, 185,2.65, 192,2.85, 199,3.25, 206,3.45, 213,3.85, 220,4.05, 227,4.3, 234,4.2, 240,4.4],
  [183,1.7, 190,1.85, 197,2.05, 204,2.35, 211,2.55, 218,2.85, 225,3.05, 232,3.35, 238,3.6],
  [190,2.1, 197,2.35, 204,2.55, 211,2.85, 218,3.05, 225,3.35, 232,3.55, 240,3.8],
  [195,1.9, 202,2.05, 209,2.25, 216,2.55, 223,2.75, 230,3.05, 236,3.15, 240,3.3]
];
const controlDiv5 = [
  [185,2.4, 190,2.85, 195,3.15, 200,3.65, 205,3.95, 210,4.45, 215,4.75, 220,5.1],
  [186,2.1, 192,2.45, 198,2.75, 204,3.25, 210,3.55, 216,4.05, 222,4.25, 228,4.65, 234,4.85, 238,5.0],
  [187,1.7, 193,1.95, 199,2.15, 205,2.65, 211,2.85, 217,3.35, 223,3.55, 229,3.95, 235,4.15, 240,4.4],
  [188,2.0, 194,2.25, 200,2.45, 206,2.85, 212,3.05, 218,3.45, 224,3.65, 230,4.05, 236,4.25, 240,4.4],
  [189,2.6, 195,2.95, 201,3.15, 207,3.55, 213,3.75, 219,4.15, 225,4.35, 231,4.65, 237,4.45, 240,4.6],
  [190,1.5, 196,1.75, 202,1.95, 208,2.35, 214,2.55, 220,2.95, 226,3.15, 232,3.55, 238,3.65, 240,3.8],
  [191,2.3, 197,2.55, 203,2.75, 209,3.05, 215,3.25, 221,3.65, 227,3.75, 233,4.05, 240,4.2],
  [192,1.8, 198,2.05, 204,2.15, 210,2.45, 216,2.65, 222,3.05, 228,3.25, 234,3.55, 240,3.7],
  [193,2.0, 199,2.15, 205,2.25, 211,2.55, 217,2.75, 223,3.05, 229,3.15, 235,3.35, 240,3.5],
  [195,1.6, 201,1.85, 207,1.95, 213,2.25, 219,2.35, 225,2.75, 231,2.85, 237,3.15, 240,3.2],
  [196,2.4, 202,2.65, 208,2.85, 214,3.15, 220,3.35, 226,3.75, 232,3.85, 238,4.15, 240,4.2],
  [198,1.9, 204,2.05, 210,2.15, 216,2.45, 222,2.45, 228,2.75, 234,2.75, 240,3.0],
  [200,1.7, 206,1.85, 212,1.95, 218,2.15, 224,2.25, 230,2.55, 236,2.55, 240,2.7],
  [202,2.2, 208,2.45, 214,2.65, 220,3.05, 226,3.15, 232,3.55, 238,3.65, 240,3.8],
  [205,1.8, 211,2.05, 217,2.15, 223,2.45, 229,2.55, 235,2.85, 240,2.9],
  [208,2.0, 214,2.15, 220,2.25, 226,2.55, 232,2.55, 238,2.85, 240,2.9],
  [186,2.9, 192,3.15, 198,3.35, 204,3.75, 210,3.95, 216,4.35, 222,4.4],
  [210,1.7, 216,1.85, 222,1.85, 228,2.15, 234,2.15, 240,2.3],
  [188,1.6, 194,1.85, 200,2.05, 206,2.45, 212,2.65, 218,3.15, 224,3.45, 230,3.85, 236,3.95, 240,4.1],
  [184,2.2, 190,2.55, 196,2.85, 202,3.25, 208,3.55, 214,3.95, 220,4.25, 226,4.6, 232,4.9],
  [190,2.8, 196,3.05, 202,3.35, 208,3.65, 214,3.95, 220,4.25, 226,4.5, 232,4.8, 238,5.0],
  [194,1.7, 200,1.95, 206,2.15, 212,2.45, 218,2.65, 224,3.05, 230,3.25, 236,3.55, 240,3.6],
  [197,2.1, 203,2.35, 209,2.55, 215,2.85, 221,3.05, 227,3.45, 233,3.65, 240,3.9],
  [199,1.6, 205,1.75, 211,1.95, 217,2.15, 223,2.35, 229,2.55, 235,2.75, 240,2.8],
  [203,2.5, 209,2.75, 215,2.95, 221,3.35, 227,3.55, 233,3.95, 240,4.1],
  [206,1.9, 212,2.05, 218,2.25, 224,2.55, 230,2.75, 236,3.05, 240,3.1],
  [212,2.1, 218,2.25, 224,2.45, 230,2.65, 236,2.85, 240,2.95],
  [215,1.8, 221,1.95, 227,2.05, 233,2.25, 240,2.4]
];

const panelData = [
  [endDiv0, endDiv1, endDiv2, endDiv3, endDiv4, endDiv5],
  [notEndDiv0, notEndDiv1, notEndDiv2, notEndDiv3, notEndDiv4, notEndDiv5],
  [controlDiv0, controlDiv1, controlDiv2, controlDiv3, controlDiv4, controlDiv5]
];

// ---- colour: HCL hue wheel over cell age (0..240 min) ----
function hclToRgba(h, c, l, alpha) {
  const hr = h * Math.PI / 180;
  const U = c * Math.cos(hr), V = c * Math.sin(hr);
  const Xn = 95.047, Yn = 100, Zn = 108.883;
  const den = Xn + 15 * Yn + 3 * Zn;
  const un = 4 * Xn / den, vn = 9 * Yn / den;
  const Y = l > 8 ? Yn * Math.pow((l + 16) / 116, 3) : Yn * l / 903.3;
  const u = U / (13 * l) + un, v = V / (13 * l) + vn;
  const X = 9 * Y * u / (4 * v);
  const Z = -X / 3 - 5 * Y + 3 * Y / v;
  const x = X / 100, y = Y / 100, z = Z / 100;
  const lin = [
    3.240479 * x - 1.537150 * y - 0.498535 * z,
    -0.969256 * x + 1.875992 * y + 0.041556 * z,
    0.055648 * x - 0.204043 * y + 1.057311 * z
  ];
  const rgb = lin.map(t => {
    const g = t <= 0.0031308 ? 12.92 * t : 1.055 * Math.pow(t, 1 / 2.4) - 0.055;
    return Math.round(255 * Math.max(0, Math.min(1, g)));
  });
  return 'rgba(' + rgb[0] + ',' + rgb[1] + ',' + rgb[2] + ',' + alpha + ')';
}
function ageColor(age, alpha) {
  const a = Math.max(0, Math.min(240, age));
  return hclToRgba(15 + 1.33 * a, 100, 65, alpha === undefined ? 1 : alpha);
}

// ---- layout of the facet grid (pixels) ----
const PANEL_LEFT = [68, 237, 406, 575, 744, 913];
const PANEL_TOP = [73, 327, 582];
const PANEL_W = 163, PANEL_H = 252;
const FONT = "'Liberation Sans', Arial, Helvetica, sans-serif";
Chart.defaults.font.family = FONT;
Chart.defaults.color = '#111';

const fig = document.getElementById('fig');

function addCanvas(left, top, width, height) {
  const cv = document.createElement('canvas');
  cv.width = width; cv.height = height;
  cv.style.left = left + 'px'; cv.style.top = top + 'px';
  cv.style.width = width + 'px'; cv.style.height = height + 'px';
  fig.appendChild(cv);
  return cv;
}

function addText(html, x, y, size, cls) {
  const d = document.createElement('div');
  d.className = 'lbl' + (cls ? ' ' + cls : '');
  d.style.left = x + 'px'; d.style.top = y + 'px';
  d.style.fontSize = size + 'px';
  d.innerHTML = html;
  fig.appendChild(d);
  return d;
}

function toDatasets(list) {
  return list.map(flat => {
    const pts = [];
    for (let i = 0; i < flat.length; i += 2) pts.push({ x: flat[i], y: flat[i + 1] });
    const t0 = pts[0].x;
    return {
      data: pts,
      borderWidth: 1.1,
      pointRadius: 0,
      pointHoverRadius: 0,
      tension: 0,
      fill: false,
      borderColor: ageColor(0),
      segment: {
        borderColor: ctx => ageColor((ctx.p0.parsed.x + ctx.p1.parsed.x) / 2 - t0)
      }
    };
  });
}

function makePanel(r, c) {
  const firstCol = c === 0, lastRow = r === 2;
  const yAxisW = firstCol ? 68 : 0;
  const xAxisH = lastRow ? 26 : 3;
  const padL = firstCol ? 0 : 8, padR = 20, padT = 8, padB = 4;
  const left = PANEL_LEFT[c] - yAxisW - padL;
  const top = PANEL_TOP[r] - padT;
  const width = padL + yAxisW + PANEL_W + padR;
  const height = padT + PANEL_H + xAxisH + padB;
  const cv = addCanvas(left, top, width, height);
  new Chart(cv, {
    type: 'line',
    data: { datasets: toDatasets(panelData[r][c]) },
    options: {
      responsive: false, animation: false, devicePixelRatio: 1, events: [],
      layout: { padding: { left: padL, right: padR, top: padT, bottom: padB } },
      plugins: { legend: { display: false }, tooltip: { enabled: false } },
      scales: {
        x: {
          type: 'linear', min: -12, max: 252,
          afterBuildTicks: s => { s.ticks = timeTicks.map(v => ({ value: v })); },
          afterFit: s => { s.height = xAxisH; },
          grid: { color: '#ebebeb', lineWidth: 1.4, drawTicks: true, tickLength: 3, tickColor: '#333', tickWidth: 1 },
          border: { display: true, color: '#333', width: 1.2 },
          ticks: {
            display: lastRow, padding: 2, autoSkip: false, maxRotation: 0,
            font: { size: 17, family: FONT }, color: '#111',
            callback: v => timeTickLabels[timeTicks.indexOf(v)]
          }
        },
        y: {
          type: 'linear', min: 0.52, max: 11.48,
          afterBuildTicks: s => { s.ticks = lengthTicks.map(v => ({ value: v })); },
          afterFit: s => { s.width = yAxisW; },
          grid: { color: '#ebebeb', lineWidth: 1.4, drawTicks: firstCol, tickLength: 3, tickColor: '#333', tickWidth: 1 },
          border: { display: firstCol, color: '#333', width: 1.2 },
          ticks: {
            display: firstCol, padding: 3, autoSkip: false,
            font: { size: 17, family: FONT }, color: '#111',
            callback: v => lengthTickLabels[lengthTicks.indexOf(v)]
          }
        }
      }
    }
  });
}

for (let r = 0; r < 3; r++) for (let c = 0; c < 6; c++) makePanel(r, c);

// ---- age colour guide ----
(function () {
  const cv = addCanvas(240, 880, 700, 94);
  new Chart(cv, {
    type: 'line',
    data: {
      datasets: [{
        data: [{ x: ageSpan[0], y: 0 }, { x: ageSpan[1], y: 0 }],
        borderWidth: 3, pointRadius: 0, tension: 0, fill: false,
        borderColor: ctx => {
          const chart = ctx.chart;
          if (!chart.chartArea) return ageColor(0);
          const xs = chart.scales.x;
          const x0 = xs.getPixelForValue(0), x1 = xs.getPixelForValue(240);
          const g = chart.ctx.createLinearGradient(x0, 0, x1, 0);
          for (let a = 0; a <= 240; a += 5) g.addColorStop(a / 240, ageColor(a, 0.85));
          return g;
        }
      }]
    },
    options: {
      responsive: false, animation: false, devicePixelRatio: 1, events: [],
      layout: { padding: { left: 43, right: 59, top: 7, bottom: 0 } },
      plugins: { legend: { display: false }, tooltip: { enabled: false } },
      scales: {
        x: {
          type: 'linear', min: 2.8, max: 243.2,
          afterBuildTicks: s => { s.ticks = ageTicks.map(v => ({ value: v })); },
          afterFit: s => { s.height = 54; },
          grid: { display: false },
          border: { display: true, color: '#333', width: 1.2 },
          ticks: {
            padding: 0, autoSkip: false, maxRotation: 0,
            font: { size: 18, family: FONT }, color: '#111',
            callback: v => ageTickLabels[ageTicks.indexOf(v)]
          }
        },
        y: {
          type: 'linear', min: -1, max: 1,
          afterFit: s => { s.width = 0; },
          grid: { display: false },
          border: { display: true, color: '#333', width: 1.2 },
          ticks: { display: false }
        }
      }
    }
  });
})();

// ---- titles, facet strips, row tags ----
addText('Divisions', 569, 26, 25);
divisions.forEach((d, c) => addText(d, PANEL_LEFT[c] + PANEL_W / 2, 60, 17));
groups.forEach((g, r) => {
  const cy = PANEL_TOP[r] + PANEL_H / 2;
  addText(g, 1097, cy, 25, 'rotr');
  addText('Length (<i>&mu;</i>m)', 28, cy, 22, 'rotl');
  addText(rowTags[r], 25, PANEL_TOP[r] + 15, 23);
});
addText('Time (minutes)', 571, 868, 22);
addText('Age (minutes)', 575, 960, 25);
</script>
</body>
</html>
